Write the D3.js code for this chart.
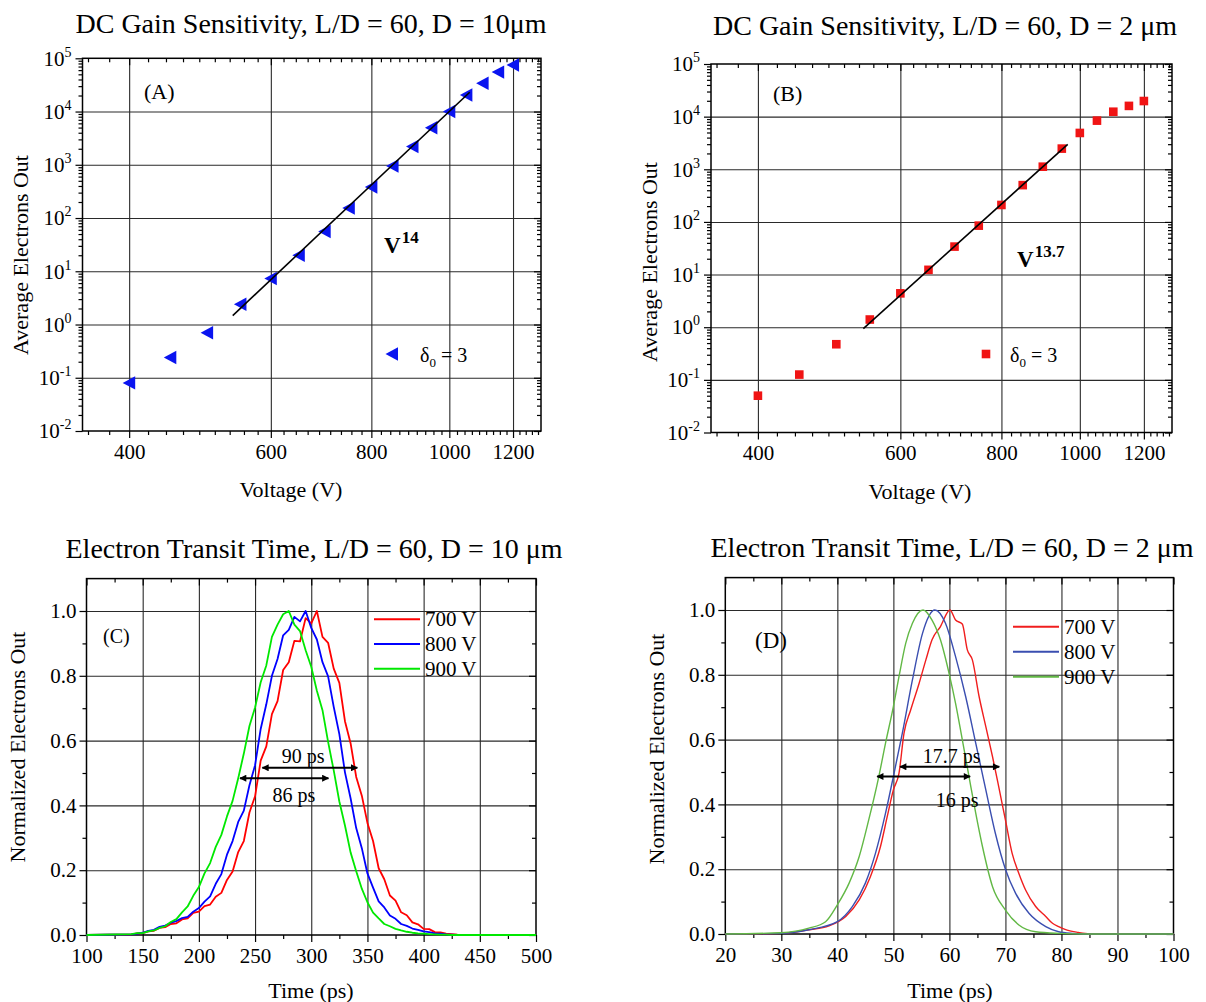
<!DOCTYPE html>
<html>
<head>
<meta charset="utf-8">
<script src="https://cdn.jsdelivr.net/npm/d3@7"></script>
<style>
  body { margin: 0; background: #fff; }
  svg text { font-family: "Liberation Serif", "Times New Roman", serif; fill: #000; }
</style>
</head>
<body>
<svg id="chart" width="1206" height="1002"></svg>
<script>
// ---------- data ----------
// DC gain (panels A and B)
var volts = [400, 450, 500, 550, 600, 650, 700, 750, 800, 850, 900, 950, 1000, 1050, 1100, 1150, 1200];
var electronsA = [0.08, 0.24, 0.70, 2.4, 7.3, 20, 56, 154, 383, 950, 2200, 4950, 10000, 20500, 34000, 55000, 75000];
var electronsB = [0.05, 0.126, 0.475, 1.4, 4.4, 12.3, 34, 85, 210, 500, 1120, 2470, 4900, 8400, 12400, 16000, 19800];
var fitVoltsA = [538, 1060], fitElectronsA = [1.47, 23000];
var fitVoltsB = [540, 966], fitElectronsB = [0.94, 2980];
var voltTicks = [400, 600, 800, 1000, 1200];
var decadeTicks = [1e-2, 1e-1, 1, 10, 100, 1e3, 1e4, 1e5];
var decadeExps = ["-2", "-1", "0", "1", "2", "3", "4", "5"];

// transit time, D = 10 um (panel C)
var timeC = [100, 140, 145, 150, 155, 160, 165, 170, 175, 180, 185, 190, 195, 200, 205, 210, 215, 220, 225, 230,
  235, 240, 245, 250, 255, 260, 265, 270, 275, 280, 285, 290, 295, 300, 305, 310, 315, 320, 325, 330,
  335, 340, 345, 350, 355, 360, 365, 370, 375, 380, 385, 390, 395, 400, 405, 410, 415, 420, 425, 430, 500];
var c700 = [0, 0.002, 0.005, 0.006, 0.011, 0.013, 0.022, 0.024, 0.034, 0.036, 0.048, 0.051, 0.068, 0.072, 0.089, 0.094, 0.118, 0.130, 0.170, 0.196,
  0.256, 0.290, 0.378, 0.428, 0.538, 0.582, 0.682, 0.722, 0.818, 0.842, 0.908, 0.906, 0.978, 0.962, 1.000, 0.920, 0.902, 0.822, 0.778, 0.660,
  0.592, 0.488, 0.430, 0.346, 0.290, 0.206, 0.172, 0.122, 0.106, 0.070, 0.061, 0.039, 0.033, 0.019, 0.018, 0.009, 0.008, 0.004, 0.003, 0.001, 0];
var c800 = [0, 0.002, 0.004, 0.007, 0.013, 0.016, 0.025, 0.029, 0.038, 0.043, 0.052, 0.056, 0.072, 0.083, 0.103, 0.119, 0.158, 0.188, 0.248, 0.290,
  0.349, 0.384, 0.462, 0.524, 0.636, 0.712, 0.800, 0.852, 0.925, 0.942, 0.982, 0.968, 1.000, 0.948, 0.912, 0.842, 0.798, 0.704, 0.620, 0.502,
  0.422, 0.330, 0.268, 0.190, 0.146, 0.104, 0.085, 0.060, 0.050, 0.034, 0.028, 0.020, 0.016, 0.011, 0.009, 0.005, 0.004, 0.002, 0.001, 0, 0];
var c900 = [0, 0.003, 0.006, 0.006, 0.011, 0.014, 0.022, 0.027, 0.040, 0.049, 0.070, 0.088, 0.121, 0.148, 0.190, 0.222, 0.272, 0.309, 0.366, 0.414,
  0.484, 0.560, 0.645, 0.702, 0.780, 0.832, 0.920, 0.958, 0.990, 1.000, 0.958, 0.938, 0.879, 0.828, 0.754, 0.694, 0.596, 0.508, 0.412, 0.338,
  0.255, 0.197, 0.143, 0.101, 0.069, 0.051, 0.034, 0.027, 0.019, 0.014, 0.010, 0.007, 0.005, 0.004, 0.003, 0.002, 0.001, 0.001, 0, 0, 0];
var timeTicksC = [100, 150, 200, 250, 300, 350, 400, 450, 500];

// transit time, D = 2 um (panel D)
var timeD700 = [20, 30, 34.9, 38.5, 41.5, 43.9, 45.9, 47.7, 48.9, 50, 51, 51.9, 53.1, 54.6, 55.8, 56.9, 58.4, 60.1, 61.1, 62.3,
  63.2, 64.1, 65.3, 66.5, 67.7, 68.8, 70, 71.2, 72.4, 73.6, 75.4, 77.2, 78.4, 79.5, 81, 83, 85, 100];
var d700 = [0, 0.002, 0.013, 0.025, 0.054, 0.105, 0.177, 0.27, 0.362, 0.445, 0.496, 0.62, 0.692, 0.774, 0.846, 0.908, 0.949, 1.0, 0.969, 0.957,
  0.877, 0.846, 0.733, 0.64, 0.547, 0.455, 0.352, 0.249, 0.187, 0.136, 0.085, 0.054, 0.033, 0.023, 0.012, 0.005, 0.001, 0];
var timeD800 = [20, 30, 34.9, 40, 42.7, 45, 46.8, 48.6, 50, 51.6, 53.4, 55.2, 57.4, 59.3, 61.1, 62.9, 64.7, 66.5, 68.2, 70,
  71.8, 74.2, 77.2, 79.5, 82, 85, 100];
var d800 = [0, 0.002, 0.013, 0.038, 0.085, 0.157, 0.249, 0.373, 0.486, 0.62, 0.784, 0.928, 1.0, 0.959, 0.856, 0.733, 0.589, 0.445, 0.311, 0.2,
  0.126, 0.064, 0.023, 0.007, 0.002, 0, 0];
var timeD900 = [20, 30, 34.9, 37.9, 40, 42.1, 43.9, 45.6, 47.4, 48.6, 50, 51, 52.2, 53.4, 55.3, 56.9, 58.4, 60, 61.1, 62.3,
  63.5, 64.7, 65.9, 67.7, 70, 72.4, 75.4, 79.5, 85, 100];
var d900 = [0, 0.004, 0.018, 0.038, 0.09, 0.157, 0.239, 0.352, 0.486, 0.589, 0.702, 0.794, 0.897, 0.959, 1.0, 0.969, 0.908, 0.8, 0.712, 0.6,
  0.486, 0.373, 0.27, 0.146, 0.074, 0.028, 0.007, 0.002, 0, 0];
var timeTicksD = [20, 30, 40, 50, 60, 70, 80, 90, 100];

var normTicks = [0, 0.2, 0.4, 0.6, 0.8, 1.0];
var seriesNames = ["700 V", "800 V", "900 V"];

// FWHM arrows: [from, to, y, label, labelX, labelY]
var arrowsC = [[256.5, 341, 0.516, "90 ps", 292.7, 0.530], [236.6, 315.3, 0.484, "86 ps", 284.5, 0.411]];
var arrowsD = [[51.2, 68.9, 0.516, "17.7 ps", 60.4, 0.527], [47.1, 63.7, 0.486, "16 ps", 61.4, 0.391]];

// ---------- drawing ----------
var svg = d3.select("#chart");
var serif = '"Liberation Serif", "Times New Roman", serif';

var defs = svg.append("defs");
defs.append("marker")
  .attr("id", "head")
  .attr("viewBox", "0 0 10 10")
  .attr("refX", 9).attr("refY", 5)
  .attr("markerWidth", 11).attr("markerHeight", 7)
  .attr("markerUnits", "userSpaceOnUse")
  .attr("orient", "auto-start-reverse")
  .append("path")
  .attr("d", "M0,0 L10,5 L0,10 Z")
  .attr("fill", "#000");

function clean(sel) {
  sel.select(".domain").remove();
  sel.selectAll(".tick line").attr("stroke", "#000").attr("stroke-width", 1.2);
}

// frame, grid and the four axes of one panel
function drawFrame(g, x, y, o) {
  var L = x.range()[0], R = x.range()[1], B = y.range()[0], T = y.range()[1];

  g.append("g")
    .attr("transform", "translate(0," + B + ")")
    .call(d3.axisBottom(x).tickValues(o.xGrid).tickSize(-(B - T)).tickFormat(""))
    .call(clean)
    .selectAll(".tick line").attr("stroke", "#2a2a2a").attr("stroke-width", 1.1);
  g.append("g")
    .attr("transform", "translate(" + L + ",0)")
    .call(d3.axisLeft(y).tickValues(o.yGrid).tickSize(-(R - L)).tickFormat(""))
    .call(clean)
    .selectAll(".tick line").attr("stroke", "#2a2a2a").attr("stroke-width", 1.1);

  // bottom
  g.append("g").attr("transform", "translate(0," + B + ")")
    .call(d3.axisBottom(x).tickValues(o.xMinor).tickSize(4).tickFormat("")).call(clean);
  g.append("g").attr("transform", "translate(0," + B + ")")
    .call(d3.axisBottom(x).tickValues(o.xMajor).tickSize(7).tickPadding(6).tickFormat(o.xFormat))
    .call(clean)
    .selectAll("text").attr("font-size", 21).attr("font-family", serif);

  // top and right, ticks pointing in
  g.append("g").attr("transform", "translate(0," + T + ")")
    .call(d3.axisTop(x).tickValues(o.xMinor).tickSize(-4).tickFormat("")).call(clean);
  g.append("g").attr("transform", "translate(0," + T + ")")
    .call(d3.axisTop(x).tickValues(o.xMajor).tickSize(-7).tickFormat("")).call(clean);
  g.append("g").attr("transform", "translate(" + R + ",0)")
    .call(d3.axisRight(y).tickValues(o.yMinor).tickSize(-4).tickFormat("")).call(clean);
  g.append("g").attr("transform", "translate(" + R + ",0)")
    .call(d3.axisRight(y).tickValues(o.yMajor).tickSize(-7).tickFormat("")).call(clean);

  // left
  g.append("g").attr("transform", "translate(" + L + ",0)")
    .call(d3.axisLeft(y).tickValues(o.yMinor).tickSize(4).tickFormat("")).call(clean);
  var left = g.append("g").attr("transform", "translate(" + L + ",0)")
    .call(d3.axisLeft(y).tickValues(o.yMajor).tickSize(7).tickPadding(o.yPad)
      .tickFormat(o.yFormat || ""))
    .call(clean);
  left.selectAll("text").attr("font-size", 21).attr("font-family", serif);
  if (o.yExps) {
    left.selectAll(".tick text").each(function(d, i) {
      var t = d3.select(this).text("10");
      t.append("tspan").attr("font-size", 14).attr("dy", -9).text(o.yExps[i]);
    });
  }

  g.append("rect")
    .attr("x", L).attr("y", T).attr("width", R - L).attr("height", B - T)
    .attr("fill", "none").attr("stroke", "#000").attr("stroke-width", 1.5);
}

function title(txt, cx, by) {
  svg.append("text").attr("x", cx).attr("y", by)
    .attr("text-anchor", "middle").attr("font-size", 28).text(txt);
}
function yTitle(txt, bx, cy) {
  svg.append("text").attr("transform", "translate(" + bx + "," + cy + ") rotate(-90)")
    .attr("text-anchor", "middle").attr("font-size", 22).text(txt);
}
function xTitle(txt, cx, by) {
  svg.append("text").attr("x", cx).attr("y", by)
    .attr("text-anchor", "middle").attr("font-size", 22).text(txt);
}

// log minor ticks
var logMinor = [];
for (var e = -2; e < 5; e++) {
  for (var m = 2; m < 10; m++) logMinor.push(m * Math.pow(10, e));
}
var voltMinor = d3.range(-2, 41).filter(function(k) { return k % 9 !== 0; })
  .map(function(k) { return 400 + k * 200 / 9; });

// ---------- panels A and B ----------
function gainPanel(o) {
  var x = d3.scaleLog().domain([350, 1300]).range([o.L, o.R]);
  var y = d3.scaleLog().domain([1e-2, 1e5]).range([o.B, o.T]);
  var g = svg.append("g");
  drawFrame(g, x, y, {
    xGrid: voltTicks, yGrid: decadeTicks.slice(1, -1),
    xMajor: voltTicks, xMinor: voltMinor, xFormat: d3.format("d"),
    yMajor: decadeTicks, yMinor: logMinor, yExps: decadeExps, yPad: 4
  });

  if (o.marker === "tri") {
    g.selectAll(".pt").data(volts).enter().append("path")
      .attr("d", "M-6.5,0 L6,-6.7 L6,6.7 Z")
      .attr("fill", o.color)
      .attr("transform", function(d, i) { return "translate(" + x(d) + "," + y(o.values[i]) + ")"; });
  } else {
    g.selectAll(".pt").data(volts).enter().append("rect")
      .attr("x", function(d) { return x(d) - 4.3; })
      .attr("y", function(d, i) { return y(o.values[i]) - 4.3; })
      .attr("width", 8.6).attr("height", 8.6)
      .attr("fill", o.color);
  }

  g.append("path")
    .datum(d3.zip(o.fitV, o.fitE))
    .attr("fill", "none").attr("stroke", "#000").attr("stroke-width", 1.6)
    .attr("d", d3.line().x(function(d) { return x(d[0]); }).y(function(d) { return y(d[1]); }));

  // panel letter
  g.append("text").attr("x", o.tag[0]).attr("y", o.tag[1]).attr("font-size", 22).text(o.tagText);

  // power-law label
  var pl = g.append("text").attr("x", o.pow[0]).attr("y", o.pow[1])
    .attr("font-size", 23).attr("font-weight", "bold").text("V");
  pl.append("tspan").attr("font-size", 17).attr("dy", -10).attr("dx", 1).text(o.powText);

  // legend
  var lx = o.leg[0], ly = o.leg[1];
  if (o.marker === "tri") {
    g.append("path").attr("d", "M-6.5,0 L6,-6.7 L6,6.7 Z").attr("fill", o.color)
      .attr("transform", "translate(" + lx + "," + ly + ")");
  } else {
    g.append("rect").attr("x", lx - 4.3).attr("y", ly - 4.3).attr("width", 8.6).attr("height", 8.6)
      .attr("fill", o.color);
  }
  var lt = g.append("text").attr("x", o.legText).attr("y", ly + 8).attr("font-size", 20).text("δ");
  lt.append("tspan").attr("font-size", 13).attr("dy", 5).text("0");
  lt.append("tspan").attr("dy", -5).text(" = 3");
}

gainPanel({
  L: 82.5, R: 541, T: 58.3, B: 431,
  values: electronsA, fitV: fitVoltsA, fitE: fitElectronsA,
  marker: "tri", color: "#0a14f0",
  tag: [144, 99], tagText: "(A)",
  pow: [384, 253], powText: "14",
  leg: [392, 354], legText: 420
});
gainPanel({
  L: 711, R: 1172, T: 64, B: 432.5,
  values: electronsB, fitV: fitVoltsB, fitE: fitElectronsB,
  marker: "sq", color: "#f01414",
  tag: [773, 101], tagText: "(B)",
  pow: [1017, 267], powText: "13.7",
  leg: [986, 354], legText: 1010
});

title("DC Gain Sensitivity, L/D = 60, D = 10μm", 311, 33);
title("DC Gain Sensitivity, L/D = 60, D = 2 μm", 945, 35);
yTitle("Average Electrons Out", 28, 255);
yTitle("Average Electrons Out", 657, 262);
xTitle("Voltage (V)", 291, 497);
xTitle("Voltage (V)", 920, 499);

// ---------- panels C and D ----------
function transitPanel(o) {
  var x = d3.scaleLinear().domain(o.domain).range([o.L, o.R]);
  var y = d3.scaleLinear().domain([0, 1.1]).range([o.B, o.T]);
  var g = svg.append("g");
  drawFrame(g, x, y, {
    xGrid: o.ticks.slice(1, -1), yGrid: normTicks.slice(1),
    xMajor: o.ticks, xMinor: o.minor, xFormat: d3.format("d"),
    yMajor: normTicks, yMinor: [0.1, 0.3, 0.5, 0.7, 0.9], yFormat: d3.format(".1f"), yPad: 3
  });

  var line = d3.line().curve(o.curve)
    .x(function(d) { return x(d[0]); })
    .y(function(d) { return y(d[1]); });
  o.series.forEach(function(s, i) {
    g.append("path")
      .datum(d3.zip(s[0], s[1]))
      .attr("fill", "none").attr("stroke", o.colors[i]).attr("stroke-width", o.width)
      .attr("stroke-linejoin", "round")
      .attr("d", line);
  });

  o.arrows.forEach(function(a) {
    g.append("line")
      .attr("x1", x(a[0])).attr("x2", x(a[1])).attr("y1", y(a[2])).attr("y2", y(a[2]))
      .attr("stroke", "#000").attr("stroke-width", 2)
      .attr("marker-start", "url(#head)").attr("marker-end", "url(#head)");
    g.append("text").attr("x", x(a[4])).attr("y", y(a[5]))
      .attr("text-anchor", "middle").attr("font-size", 20).text(a[3]);
  });

  g.append("text").attr("x", o.tag[0]).attr("y", o.tag[1]).attr("font-size", o.tagSize).text(o.tagText);

  seriesNames.forEach(function(n, i) {
    var ly = o.leg[1] + i * o.leg[2];
    g.append("line").attr("x1", o.leg[0]).attr("x2", o.leg[0] + 46).attr("y1", ly).attr("y2", ly)
      .attr("stroke", o.colors[i]).attr("stroke-width", 2);
    g.append("text").attr("x", o.leg[0] + 51).attr("y", ly + 7).attr("font-size", 21).text(n);
  });
}

transitPanel({
  domain: [100, 500], L: 86.5, R: 536, T: 578.6, B: 935,
  ticks: timeTicksC, minor: [125, 175, 225, 275, 325, 375, 425, 475],
  series: [[timeC, c700], [timeC, c800], [timeC, c900]],
  colors: ["#ff0000", "#0000ff", "#00e800"], width: 1.8, curve: d3.curveLinear,
  arrows: arrowsC,
  tag: [103, 643], tagText: "(C)", tagSize: 20,
  leg: [374, 619.3, 24.7]
});
transitPanel({
  domain: [20, 100], L: 725.3, R: 1173.5, T: 577.6, B: 934,
  ticks: timeTicksD, minor: [25, 35, 45, 55, 65, 75, 85, 95],
  series: [[timeD700, d700], [timeD800, d800], [timeD900, d900]],
  colors: ["#f01e1e", "#3a4eb0", "#62b845"], width: 1.4, curve: d3.curveMonotoneX,
  arrows: arrowsD,
  tag: [755, 648], tagText: "(D)", tagSize: 23,
  leg: [1013, 626.7, 25]
});

title("Electron Transit Time, L/D = 60, D = 10 μm", 314, 558);
title("Electron Transit Time, L/D = 60, D = 2 μm", 952, 557);
yTitle("Normalized Electrons Out", 25, 747);
yTitle("Normalized Electrons Out", 664, 749);
xTitle("Time (ps)", 311, 998);
xTitle("Time (ps)", 950, 998);
</script>
</body>
</html>
